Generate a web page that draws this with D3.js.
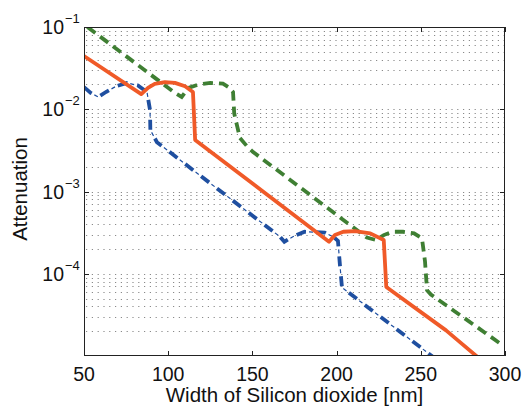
<!DOCTYPE html>
<html><head><meta charset="utf-8">
<script src="https://cdn.jsdelivr.net/npm/d3@7"></script>
<style>body{margin:0;background:#fff}svg{display:block}text{font-family:"Liberation Sans",Arial,Helvetica,sans-serif}</style>
</head><body>
<svg id="c" width="522" height="409"></svg>
<script>
const xTicks = [50,100,150,200,250,300];
const yTickExps = [-1,-2,-3,-4];
const xLabel = "Width of Silicon dioxide [nm]";
const yLabel = "Attenuation";

const redX = [50,84,88,92,98,104,110,114.7,116,160,195.5,199,204,211,220,228,229.5,265,272,283.5];
const redY = [0.0444,0.0153,0.0182,0.0204,0.0214,0.0209,0.019,0.0162,0.00423,0.000875,0.000245,0.000295,0.000324,0.00033,0.00031,0.000257,0.000069,0.0000205,0.0000155,0.0000098];

const greenX = [52,104,108,112,118,125,132.5,136,138.5,139.2,142.6,146.8,150.4,218,223.4,228,233,239.5,246,250.7,252.5,253.7,256,298];
const greenY = [0.1,0.0158,0.0141,0.0182,0.02,0.0209,0.0205,0.0185,0.0162,0.0089,0.00447,0.00355,0.00302,0.000275,0.000257,0.000295,0.000324,0.000324,0.00031,0.000269,0.000141,0.000063,0.000056,0.0000138];

const blueX = [50,54,58.4,63,69,75.5,82,87.4,89.2,89.4,93.3,116,160,166.4,169,174,181,193,198,200.8,202,203.2,258];
const blueY = [0.0186,0.0158,0.0141,0.0162,0.019,0.0209,0.0195,0.0162,0.0098,0.0056,0.00398,0.00174,0.000355,0.000282,0.000245,0.000282,0.000324,0.000316,0.000282,0.000251,0.000126,0.000068,0.0000095];

const L=84,R=505,T=27,B=356;
const svg = d3.select("#c");
const x = d3.scaleLinear().domain([50,300]).range([L,R]);
const y = d3.scaleLog().domain([1e-5,1e-1]).range([B,T]);

// grid (horizontal, major + minor)
const gridVals = [];
for (let e=-5;e<-1+0.1;e++){ for (let m=1;m<10;m++){ const v=m*Math.pow(10,e); gridVals.push(v);} }
svg.append("g").selectAll("line").data(gridVals.filter(v=>v>1.0001e-5 && v<0.0999)).join("line")
  .attr("x1",L+2).attr("x2",R).attr("y1",d=>Math.round(y(d))+0.5).attr("y2",d=>Math.round(y(d))+0.5)
  .attr("stroke","#8a8a8a").attr("stroke-width",1).attr("stroke-dasharray","1.2,4.6");

svg.append("clipPath").attr("id","pc").append("rect").attr("x",L).attr("y",T).attr("width",R-L).attr("height",B-T);
const line = d3.line().x(d=>x(d[0])).y(d=>y(d[1])).curve(d3.curveLinear);
const g = svg.append("g").attr("clip-path","url(#pc)");
const zip=(a,b)=>a.map((v,i)=>[v,b[i]]);

g.append("path").attr("d",line(zip(greenX,greenY))).attr("fill","none").attr("stroke","#3f7f33").attr("stroke-width",3.8).attr("stroke-dasharray","10,6");
g.append("path").attr("d",line(zip(blueX,blueY))).attr("fill","none").attr("stroke","#1f4fa0").attr("stroke-width",3.8).attr("stroke-dasharray","10,10");
g.append("path").attr("d",line(zip(blueX,blueY))).attr("fill","none").attr("stroke","#1f4fa0").attr("stroke-width",1.2).attr("stroke-dasharray","4,16").attr("stroke-dashoffset",7);
g.append("path").attr("d",line(zip(redX,redY))).attr("fill","none").attr("stroke","#f05a28").attr("stroke-width",3.8).attr("stroke-linejoin","round");

// axes box & ticks
const ax = svg.append("g").attr("stroke","#222").attr("stroke-width",1);
ax.append("rect").attr("x",L+0.5).attr("y",T+0.5).attr("width",R-L-1).attr("height",B-T-1).attr("fill","none");
xTicks.forEach(t=>{
  const px=Math.round(x(t))+0.5;
  ax.append("line").attr("x1",px).attr("x2",px).attr("y1",B).attr("y2",B-5);
  ax.append("line").attr("x1",px).attr("x2",px).attr("y1",T).attr("y2",T+5);
});
yTickExps.forEach(e=>{
  const py=Math.round(y(Math.pow(10,e)))+0.5;
  ax.append("line").attr("x1",L).attr("x2",L+5).attr("y1",py).attr("y2",py);
  ax.append("line").attr("x1",R).attr("x2",R-5).attr("y1",py).attr("y2",py);
});

// tick labels
svg.append("g").selectAll("text").data(xTicks).join("text")
  .attr("x",d=>x(d)).attr("y",381).attr("text-anchor","middle").attr("font-size",19.5).attr("fill","#111").text(d=>d);
yTickExps.forEach(e=>{
  const py=y(Math.pow(10,e));
  svg.append("text").attr("x",64).attr("y",py+7).attr("text-anchor","end").attr("font-size",19.5).attr("fill","#111").text("10");
  svg.append("text").attr("x",65).attr("y",py-4).attr("font-size",13).attr("fill","#111").text("\u2212"+Math.abs(e));
});

svg.append("text").attr("x",(L+R)/2).attr("y",402).attr("text-anchor","middle").attr("font-size",20.5).attr("fill","#111").text(xLabel);
svg.append("text").attr("transform","translate(27,189) rotate(-90)").attr("text-anchor","middle").attr("font-size",20.5).attr("fill","#111").text(yLabel);
</script>
</body></html>
